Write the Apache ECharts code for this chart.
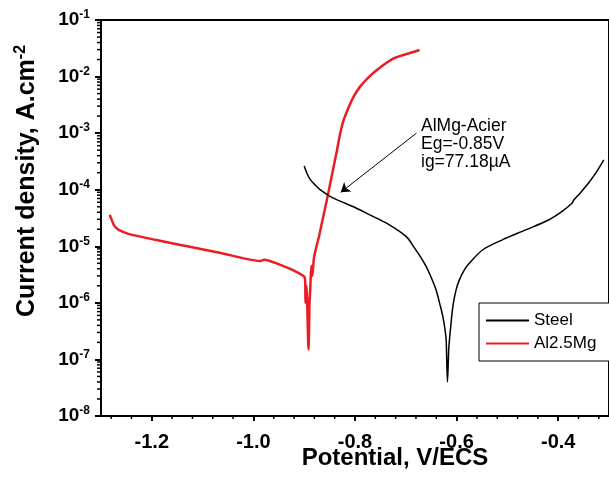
<!DOCTYPE html>
<html><head><meta charset="utf-8">
<script src="https://cdn.jsdelivr.net/npm/echarts@6/dist/echarts.min.js"></script>
<style>html,body{margin:0;padding:0;background:#fff}#c{width:609px;height:486px}</style>
</head><body><div id="c"></div>
<script>
// Steel polarization curve (potential V/ECS, current density A/cm2)
const steelE = [-0.900, -0.894, -0.8875, -0.878, -0.868, -0.8484, -0.826, -0.803, -0.771, -0.738, -0.699, -0.6824, -0.671, -0.660, -0.650, -0.6405, -0.633, -0.627, -0.6225, -0.6205, -0.618, -0.6155, -0.6141, -0.6074, -0.601, -0.5945, -0.585, -0.575, -0.549, -0.510, -0.464, -0.419, -0.393, -0.373, -0.3697, -0.357, -0.3406, -0.3242, -0.3103];
const steelI = [2.63e-4, 1.9e-4, 1.49e-4, 1.2e-4, 9.9e-5, 7.55e-5, 6.1e-5, 5.0e-5, 3.6e-5, 2.56e-5, 1.48e-5, 9.2e-6, 6.5e-6, 4.4e-6, 2.8e-6, 1.7e-6, 9.5e-7, 5.7e-7, 3.2e-7, 2.2e-7, 4.0e-8, 1.5e-7, 2.2e-7, 8.6e-7, 1.7e-6, 2.55e-6, 3.8e-6, 5.0e-6, 8.6e-6, 1.3e-5, 1.95e-5, 2.92e-5, 4.1e-5, 5.77e-5, 6.5e-5, 8.7e-5, 1.3e-4, 2.09e-4, 3.37e-4];
// Al2.5Mg polarization curve
const alE = [-1.283, -1.2797, -1.275, -1.271, -1.265, -1.246, -1.193, -1.128, -1.064, -0.986, -0.979, -0.947, -0.920, -0.900, -0.898, -0.8975, -0.8955, -0.8915, -0.8895, -0.888, -0.886, -0.884, -0.881, -0.877, -0.871, -0.862, -0.854, -0.842, -0.8354, -0.829, -0.8223, -0.812, -0.8027, -0.790, -0.7734, -0.757, -0.725, -0.6986, -0.673];
const alI = [3.6e-5, 3.05e-5, 2.4e-5, 2.16e-5, 1.95e-5, 1.66e-5, 1.3e-5, 9.9e-6, 7.6e-6, 5.5e-6, 5.8e-6, 4.7e-6, 3.7e-6, 2.9e-6, 2.25e-6, 1.0e-6, 2.0e-6, 1.5e-7, 1.0e-6, 1.8e-6, 4.5e-6, 3.0e-6, 6.0e-6, 9.0e-6, 1.48e-5, 3.5e-5, 7.6e-5, 2.56e-4, 5.05e-4, 1.0e-3, 1.71e-3, 2.94e-3, 4.42e-3, 6.64e-3, 9.7e-3, 1.31e-2, 2.07e-2, 2.5e-2, 2.95e-2];
const seriesNames = ['Steel', 'Al2.5Mg'];
const xTickLabels = [-1.2, -1.0, -0.8, -0.6, -0.4];
const xRange = [-1.3, -0.3];
const yRange = [1e-8, 1e-1];
const annotationLines = ['AlMg-Acier', 'Eg=-0.85V', 'ig=77.18\u00b5A'];
const arrowFrom = [-0.679, 1.0e-3];
const arrowTo = [-0.828, 9.0e-5];

const FONT = 'Liberation Sans, Arial, sans-serif';
const toPairs = (xs, ys) => xs.map((x, i) => [x, ys[i]]);

// minor ticks: log minors (2..9) on y, every 0.04 V on x
const minorTicks = [];
for (let n = -8; n < -1; n++) for (let k = 2; k <= 9; k++) minorTicks.push([xRange[0], k * Math.pow(10, n), 0]);
for (let i = 0; i <= 24; i++) {
  const v = Math.round((-1.28 + i * 0.04) * 100) / 100;
  if (Math.abs(v * 5 - Math.round(v * 5)) < 1e-6) continue;
  minorTicks.push([v, yRange[0], 1]);
}

const chart = echarts.init(document.getElementById('c'), null, {renderer: 'canvas'});
chart.setOption({
  animation: false,
  backgroundColor: '#fff',
  grid: {left: 101, top: 20, right: -3, bottom: 70, show: true, borderColor: '#000', borderWidth: 2, backgroundColor: 'transparent'},
  xAxis: {
    type: 'value', min: xRange[0], max: xRange[1],
    axisLine: {lineStyle: {color: '#000', width: 2}},
    axisTick: {show: true, length: 5, lineStyle: {color: '#000', width: 2}, customValues: xTickLabels},
    axisLabel: {customValues: xTickLabels, margin: 16, color: '#000', fontFamily: FONT, fontWeight: 'bold', fontSize: 20,
      formatter: v => v.toFixed(1)},
    splitLine: {show: false}
  },
  yAxis: {
    type: 'log', logBase: 10, min: yRange[0], max: yRange[1], splitNumber: 7,
    axisLine: {lineStyle: {color: '#000', width: 2}},
    axisTick: {show: true, length: 6, lineStyle: {color: '#000', width: 2}},
    axisLabel: {margin: 11, color: '#000',
      formatter: v => '{a|10}{b|' + Math.round(Math.log10(v)) + '}',
      rich: {
        a: {fontFamily: FONT, fontWeight: 'bold', fontSize: 19, color: '#000', lineHeight: 22},
        b: {fontFamily: FONT, fontWeight: 'bold', fontSize: 12, color: '#000', verticalAlign: 'top', lineHeight: 12}
      }},
    splitLine: {show: false}
  },
  legend: {
    data: seriesNames, orient: 'vertical', left: 479, top: 303,
    borderColor: '#000', borderWidth: 1, backgroundColor: '#fff',
    padding: [9, 40, 9, 6], itemWidth: 43, itemHeight: 14, itemGap: 6,
    itemStyle: {color: 'transparent', borderWidth: 0},
    textStyle: {fontFamily: FONT, fontSize: 17, color: '#000'}
  },
  series: [
    {name: seriesNames[0], type: 'line', data: toPairs(steelE, steelI), symbol: 'none', smooth: 0.3,
      lineStyle: {color: '#000', width: 1.5}, itemStyle: {color: '#000'}, z: 3,
      markLine: {silent: true, symbol: ['none', 'arrow'], symbolSize: 9, label: {show: false},
        lineStyle: {color: '#000', width: 1, type: 'solid'},
        data: [[{coord: arrowFrom}, {coord: arrowTo}]]}},
    {name: seriesNames[1], type: 'line', data: toPairs(alE, alI), symbol: 'none', smooth: 0.25,
      lineStyle: {color: '#ed1c24', width: 2.5}, itemStyle: {color: '#ed1c24'}, z: 2},
    {type: 'custom', silent: true, clip: false, data: minorTicks, z: 5,
      renderItem: function (params, api) {
        const p = api.coord([api.value(0), api.value(1)]);
        const t = api.value(2);
        const shape = t === 0 ? {x1: p[0] - 4, y1: p[1], x2: p[0], y2: p[1]} : {x1: p[0], y1: p[1], x2: p[0], y2: p[1] + 3};
        return {type: 'line', shape: shape, style: {stroke: '#000', lineWidth: 1.5}};
      }}
  ],
  graphic: [
    {type: 'text', left: 421, top: 117, style: {text: annotationLines.join('\n'), fontFamily: FONT, fontSize: 17.5, lineHeight: 18, fill: '#000'}},
    {type: 'text', x: 395, y: 458, style: {text: 'Potential, V/ECS', fontFamily: FONT, fontWeight: 'bold', fontSize: 24, fill: '#000', align: 'center', verticalAlign: 'middle'}},
    {type: 'text', x: 27, y: 181, rotation: Math.PI / 2,
      style: {text: '{a|Current density, A.cm}{b|-2}', align: 'center', verticalAlign: 'middle',
        rich: {a: {fontFamily: FONT, fontWeight: 'bold', fontSize: 25, fill: '#000', lineHeight: 28},
               b: {fontFamily: FONT, fontWeight: 'bold', fontSize: 16, fill: '#000', verticalAlign: 'top', lineHeight: 15}}}}
  ]
});
</script></body></html>
